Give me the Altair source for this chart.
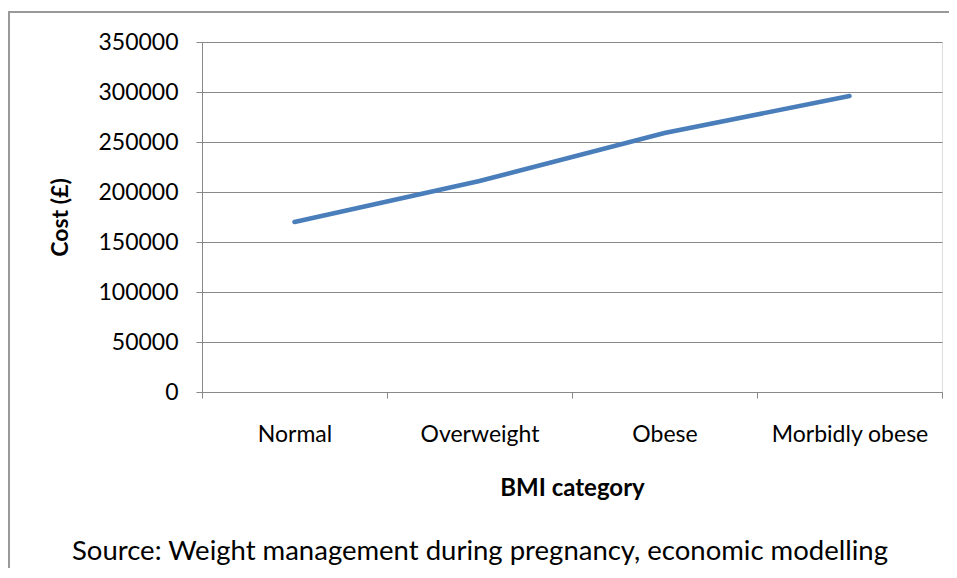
import altair as alt
import pandas as pd

categories = ["Normal", "Overweight", "Obese", "Morbidly obese"]
costs = [170000, 211000, 259000, 296000]
y_ticks = [0, 50000, 100000, 150000, 200000, 250000, 300000, 350000]
source_text = "Source: Weight management during pregnancy, economic modelling"

df = pd.DataFrame({"category": categories, "cost": costs})
one = pd.DataFrame({"label": [source_text]})

FONT = "Lato"

x_enc = alt.X(
    "category:N",
    sort=categories,
    scale=alt.Scale(paddingInner=0, paddingOuter=0),
    axis=alt.Axis(
        title="BMI category",
        labelAngle=0,
        labelFont=FONT,
        labelFontSize=23,
        labelColor="#000000",
        labelPadding=25,
        tickBand="extent",
        tickSize=6,
        tickColor="#888888",
        domainColor="#888888",
        titleFont=FONT,
        titleFontSize=24,
        titleFontWeight="bold",
        titleColor="#000000",
        titlePadding=30,
        grid=False,
    ),
)

y_enc = alt.Y(
    "cost:Q",
    scale=alt.Scale(domain=[0, 350000], nice=False),
    axis=alt.Axis(
        title="Cost (£)",
        values=y_ticks,
        format="d",
        labelFont=FONT,
        labelFontSize=23,
        labelColor="#000000",
        labelPadding=18,
        tickSize=6,
        tickColor="#888888",
        domainColor="#888888",
        gridColor="#888888",
        gridWidth=1,
        titleFont=FONT,
        titleFontSize=23,
        titleFontWeight="bold",
        titleColor="#000000",
        titlePadding=25,
    ),
)

line = alt.Chart(df).mark_line(color="#4a7ebb", strokeWidth=4.5, strokeCap="round").encode(
    x=x_enc, y=y_enc
)

border = alt.Chart(one).mark_rect(
    fill=None, stroke="#999999", strokeWidth=2, clip=False
).encode(
    x=alt.value(-193), x2=alt.value(760), y=alt.value(-30), y2=alt.value(600)
)

source = alt.Chart(one).mark_text(
    font=FONT, fontSize=27.5, fontWeight="normal", color="#000000",
    align="center", baseline="alphabetic"
).encode(
    x=alt.value(278), y=alt.value(518), text="label:N"
)

chart = alt.layer(border, line, source).properties(
    width=740,
    height=350,
    autosize=alt.AutoSizeParams(type="none"),
    padding={"left": 194, "top": 34, "right": 7, "bottom": 176},
).configure_view(stroke=None).configure(background="white")

chart.save("out.html", embed_options={"renderer": "svg", "actions": False})
